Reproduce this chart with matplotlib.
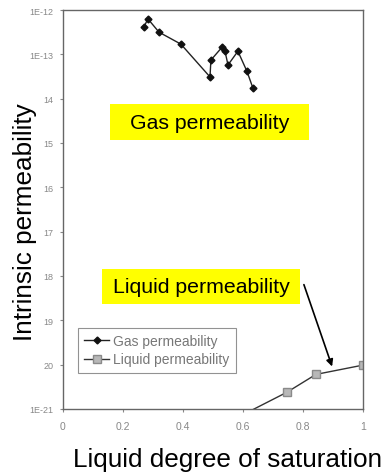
import matplotlib
matplotlib.use('Agg')
import matplotlib.pyplot as plt
from matplotlib.patches import Rectangle

plt.rcParams['font.family'] = ['Liberation Sans', 'DejaVu Sans']

# gas permeability (saturation, log10 k)
gas_sat = [0.27, 0.283, 0.32, 0.393, 0.49, 0.493, 0.53, 0.54, 0.55, 0.583, 0.613, 0.633]
gas_logk = [-12.38, -12.20, -12.50, -12.77, -13.51, -13.13, -12.84, -12.93, -13.24, -12.93, -13.38, -13.76]

# liquid permeability (first point lies below the axis and gets clipped)
liq_sat = [0.55, 0.747, 0.843, 1.0]
liq_logk = [-21.3, -20.62, -20.22, -20.01]

y_ticks = [-21, -20, -19, -18, -17, -16, -15, -14, -13, -12]
y_labels = ['1E-21', '20', '19', '18', '17', '16', '15', '14', '1E-13', '1E-12']
x_ticks = [0, 0.2, 0.4, 0.6, 0.8, 1]
x_labels = ['0', '0.2', '0.4', '0.6', '0.8', '1']

W, H = 391, 477
fig = plt.figure(figsize=(W / 100, H / 100), dpi=100)
ax = fig.add_axes([63 / W, 1 - 410 / H, 300 / W, 399 / H])

ax.plot(gas_sat, [10 ** v for v in gas_logk], color='#222222', lw=1.0,
        marker='D', ms=3.5, mfc='#111111', mec='#111111', label='Gas permeability')
ax.plot(liq_sat, [10 ** v for v in liq_logk], color='#333333', lw=1.0,
        marker='s', ms=6, mfc='#b8b8b8', mec='#8a8a8a', label='Liquid permeability')

ax.set_yscale('log')
ax.set_ylim(1e-21, 1e-12)
ax.set_xlim(0, 1)
ax.set_yticks([10 ** v for v in y_ticks])
ax.set_yticklabels(y_labels)
ax.minorticks_off()
ax.set_xticks(x_ticks)
ax.set_xticklabels(x_labels)
ax.tick_params(axis='y', labelsize=6.5, colors='#888888', length=2, pad=5)
ax.tick_params(axis='x', labelsize=7.5, colors='#888888', length=2, pad=7)
for s in ax.spines.values():
    s.set_color('#666666')
    s.set_linewidth(1.0)

ax.set_ylabel('Intrinsic permeability', fontsize=18.8)
ax.yaxis.set_label_coords(-0.127, 0.471)
ax.yaxis.label.set_va('center')
ax.set_xlabel('Liquid degree of saturation', fontsize=18.8)
ax.xaxis.set_label_coords(0.547, -0.125)
ax.xaxis.label.set_va('center')

leg = ax.legend(loc='upper left', bbox_to_anchor=(15 / 300, (410 - 329) / 399),
                fontsize=10, frameon=True, fancybox=False, edgecolor='#777777',
                handlelength=1.8, handletextpad=0.3, borderpad=0.45,
                labelspacing=0.3, borderaxespad=0)
leg.get_frame().set_linewidth(0.8)
for t in leg.get_texts():
    t.set_color('#777777')

# yellow call-out boxes
fig.patches.append(Rectangle((110 / W, 1 - 141 / H), 199 / W, 36 / H,
                             transform=fig.transFigure, facecolor='#ffff00',
                             edgecolor='none', zorder=5))
fig.patches.append(Rectangle((102 / W, 1 - 305 / H), 198 / W, 35 / H,
                             transform=fig.transFigure, facecolor='#ffff00',
                             edgecolor='none', zorder=5))
fig.text(209.5 / W, 1 - 123.5 / H, 'Gas permeability', fontsize=15.3,
         ha='center', va='center', zorder=6)
fig.text(201 / W, 1 - 287.5 / H, 'Liquid permeability', fontsize=15.3,
         ha='center', va='center', zorder=6)

ax.annotate('', xy=(0.9, 10 ** -20.1), xycoords='data',
            xytext=(303 / W, 1 - 283 / H), textcoords='figure fraction',
            arrowprops=dict(arrowstyle='-|>', color='black', lw=1.2, mutation_scale=10))

fig.savefig('out.png', dpi=100)
